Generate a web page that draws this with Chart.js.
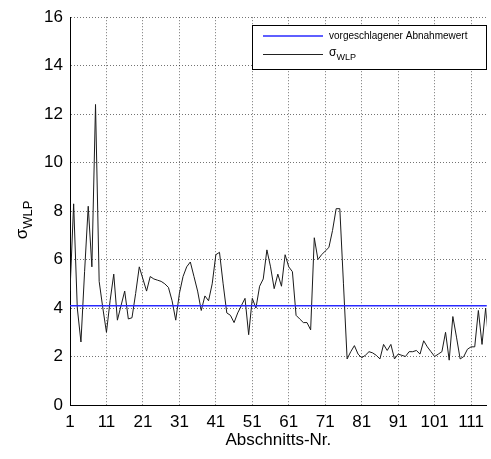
<!DOCTYPE html>
<html>
<head>
<meta charset="utf-8">
<title>σWLP je Abschnitt</title>
<script src="https://cdn.jsdelivr.net/npm/chart.js@4.4.0/dist/chart.umd.min.js"></script>
<style>
  body { margin: 0; background: #fff; }
  #wrap { width: 491px; height: 459px; }
</style>
</head>
<body>
<div id="wrap"><canvas id="wlp" width="491" height="459"></canvas></div>
<script>
// sigma WLP per section
const sigmaWLP = [
    4.7, 8.3, 4.0, 2.6, 5.5, 8.2, 5.7, 12.4, 5.1, 4.0,
    3.0, 4.3, 5.4, 3.5, 4.1, 4.7, 3.55, 3.6, 4.6, 5.7,
    5.2, 4.7, 5.3, 5.2, 5.15, 5.1, 5.0, 4.85, 4.3, 3.5,
    4.6, 5.3, 5.7, 5.9, 5.3, 4.7, 3.9, 4.5, 4.3, 5.0,
    6.2, 6.3, 5.0, 3.8, 3.7, 3.4, 3.8, 4.1, 4.4, 2.9,
    4.4, 4.0, 4.9, 5.2, 6.4, 5.7, 4.8, 5.4, 4.9, 6.2,
    5.7, 5.5, 3.7, 3.55, 3.4, 3.4, 3.1, 6.9, 6.0, 6.2,
    6.35, 6.5, 7.2, 8.1, 8.1, 5.0, 1.9, 2.2, 2.45, 2.1,
    1.95, 2.05, 2.2, 2.15, 2.05, 1.9, 2.5, 2.25, 2.5, 1.9,
    2.1, 2.05, 2.0, 2.2, 2.2, 2.25, 2.1, 2.65, 2.4, 2.2,
    2.0, 2.1, 2.2, 3.0, 1.85, 3.65, 2.8, 1.9, 2.0, 2.3,
    2.4, 2.4, 3.9, 2.5, 4.0, 2.4
];
const sections = sigmaWLP.map((_, i) => i + 1);

// proposed acceptance value (horizontal line)
const abnahmewert = 4.1;

const xTicks = [1, 11, 21, 31, 41, 51, 61, 71, 81, 91, 101, 111];
const yTicks = [0, 2, 4, 6, 8, 10, 12, 14, 16];
const xRange = [1, 115.3];

const FONT = '"Liberation Sans", Arial, Helvetica, sans-serif';
const BLUE = '#2a2aff';

const wlpPoints = sections.map((s, i) => ({ x: s, y: sigmaWLP[i] }));
const limitPoints = [
    { x: sections[0], y: abnahmewert },
    { x: sections[sections.length - 1], y: abnahmewert }
];

// writes "σ" followed by a subscript
function drawSigma(ctx, x, y, size, subSize, subShift) {
    ctx.font = size + 'px ' + FONT;
    ctx.textAlign = 'left';
    ctx.textBaseline = 'middle';
    ctx.fillText('σ', x, y);
    const w = ctx.measureText('σ').width;
    ctx.font = subSize + 'px ' + FONT;
    ctx.fillText('WLP', x + w, y + subShift);
}

// axis titles and legend box drawn by hand (need subscripts)
const annotations = {
    id: 'annotations',
    afterDraw(chart) {
        const ctx = chart.ctx;
        const area = chart.chartArea;
        ctx.save();
        ctx.fillStyle = '#000';

        // x title
        ctx.font = '17px ' + FONT;
        ctx.textAlign = 'center';
        ctx.textBaseline = 'middle';
        ctx.fillText('Abschnitts-Nr.', (area.left + area.right) / 2, 440);

        // y title, rotated
        ctx.save();
        ctx.translate(22, 220);
        ctx.rotate(-Math.PI / 2);
        ctx.font = '17px ' + FONT;
        const sw = ctx.measureText('σ').width;
        ctx.font = '13px ' + FONT;
        const subw = ctx.measureText('WLP').width;
        drawSigma(ctx, -(sw + subw) / 2, 0, 17, 13, 6);
        ctx.restore();

        // legend
        const box = { x: 252.5, y: 25.5, w: 234, h: 44 };
        ctx.fillStyle = '#fff';
        ctx.fillRect(box.x, box.y, box.w, box.h);
        ctx.strokeStyle = '#000';
        ctx.lineWidth = 1;
        ctx.strokeRect(box.x, box.y, box.w, box.h);

        ctx.lineWidth = 1.5;
        ctx.strokeStyle = BLUE;
        ctx.beginPath();
        ctx.moveTo(263, 36);
        ctx.lineTo(323, 36);
        ctx.stroke();
        ctx.strokeStyle = '#222';
        ctx.lineWidth = 1;
        ctx.beginPath();
        ctx.moveTo(263, 54.5);
        ctx.lineTo(323, 54.5);
        ctx.stroke();

        ctx.fillStyle = '#000';
        ctx.font = '10px ' + FONT;
        ctx.textAlign = 'left';
        ctx.textBaseline = 'middle';
        ctx.fillText('vorgeschlagener Abnahmewert', 329, 36);
        drawSigma(ctx, 329, 53, 12, 9, 5);

        ctx.restore();
    }
};

const ctx = document.getElementById('wlp').getContext('2d');
new Chart(ctx, {
    type: 'line',
    data: {
        datasets: [
            {
                label: 'vorgeschlagener Abnahmewert',
                data: limitPoints,
                borderColor: BLUE,
                borderWidth: 1.5,
                pointRadius: 0,
                tension: 0
            },
            {
                label: 'σWLP',
                data: wlpPoints,
                borderColor: '#1a1a1a',
                borderWidth: 1,
                pointRadius: 0,
                tension: 0
            }
        ]
    },
    options: {
        responsive: false,
        animation: false,
        events: [],
        layout: { padding: { top: 14, right: 0, bottom: 0, left: 0 } },
        plugins: {
            legend: { display: false },
            tooltip: { enabled: false },
            title: { display: false }
        },
        scales: {
            x: {
                type: 'linear',
                min: xRange[0],
                max: xRange[1],
                afterBuildTicks: s => { s.ticks = xTicks.map(v => ({ value: v })); },
                afterFit: s => { s.height = 54; },
                ticks: {
                    autoSkip: false,
                    maxRotation: 0,
                    padding: 7,
                    color: '#000',
                    font: { family: FONT, size: 17 }
                },
                grid: {
                    color: 'rgba(0,0,0,0.55)',
                    lineWidth: 1,
                    drawTicks: false
                },
                border: { display: true, color: '#000', width: 1, dash: [1, 2] }
            },
            y: {
                min: 0,
                max: 16,
                afterBuildTicks: s => { s.ticks = yTicks.map(v => ({ value: v })); },
                afterFit: s => { s.width = 70; },
                ticks: {
                    padding: 7,
                    color: '#000',
                    font: { family: FONT, size: 17 }
                },
                grid: {
                    color: 'rgba(0,0,0,0.55)',
                    lineWidth: 1,
                    drawTicks: false
                },
                border: { display: true, color: '#000', width: 1, dash: [1, 2] }
            }
        }
    },
    plugins: [annotations]
});
</script>
</body>
</html>
